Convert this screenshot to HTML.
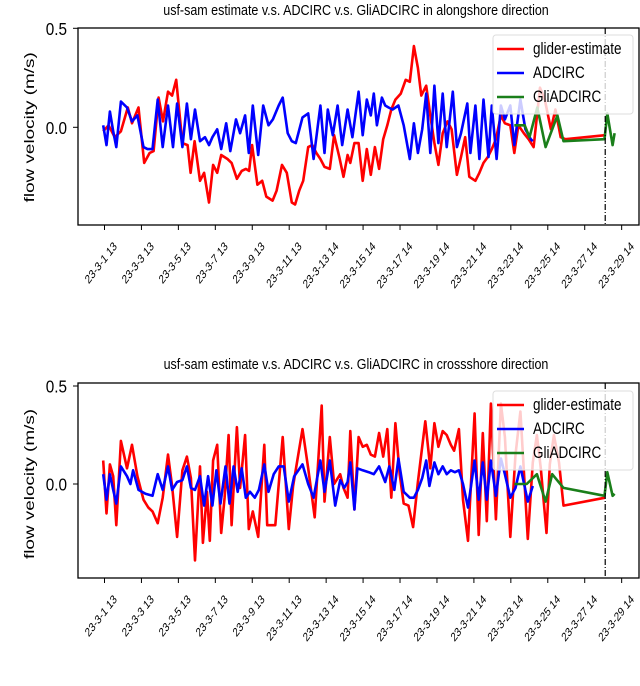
<!DOCTYPE html>
<html><head><meta charset="utf-8"><style>
body{margin:0;background:#fff;}
svg text{font-family:"Liberation Sans",sans-serif;}
</style></head><body>
<svg id="chart" width="640" height="681" xmlns="http://www.w3.org/2000/svg"></svg>
<script>
const tickDays=[1,3,5,7,9,11,13,15,17,19,21,23,25,27,29];
const tickLabels=["23-3-1 13","23-3-3 13","23-3-5 13","23-3-7 13","23-3-9 13","23-3-11 13","23-3-13 14","23-3-15 14","23-3-17 14","23-3-19 14","23-3-21 14","23-3-23 14","23-3-25 14","23-3-27 14","23-3-29 14"];
const yTicks=[0.5,0.0];
const markerDay=28.11;

const aGliderT=[0.93,1.22,1.55,1.89,2.26,2.49,2.84,3.15,3.44,3.66,3.93,4.17,4.44,4.66,4.88,5.22,5.50,5.66,5.88,6.17,6.39,6.66,6.88,7.10,7.32,7.66,7.88,8.17,8.43,8.65,8.83,8.99,9.28,9.54,9.76,10.10,10.32,10.61,10.87,11.14,11.32,11.54,11.76,12.03,12.25,12.47,12.69,12.91,13.20,13.43,13.71,13.94,14.16,14.31,14.53,14.76,14.98,15.20,15.42,15.64,15.87,16.09,16.31,16.53,16.75,17.04,17.31,17.53,17.75,17.97,18.15,18.42,18.64,18.86,19.08,19.31,19.57,19.79,20.08,20.30,20.53,20.75,21.08,21.30,21.52,21.75,21.97,22.19,22.46,22.68,22.97,23.19,23.41,23.70,23.96,24.23,24.58,24.84,25.17,25.41,25.70,25.96,28.11];
const aGliderV=[-0.02,0.01,-0.05,-0.02,0.10,0.02,0.10,-0.18,-0.13,-0.12,0.15,0.03,0.18,0.16,0.24,-0.08,-0.09,-0.23,-0.07,-0.27,-0.23,-0.38,-0.19,-0.23,-0.14,-0.16,-0.18,-0.26,-0.22,-0.21,-0.22,-0.09,-0.29,-0.27,-0.35,-0.37,-0.32,-0.19,-0.23,-0.38,-0.39,-0.32,-0.27,-0.10,-0.09,-0.13,-0.16,-0.20,-0.21,-0.04,-0.15,-0.25,-0.14,-0.18,-0.08,-0.08,-0.27,-0.11,-0.24,-0.10,-0.21,-0.06,0.01,0.09,0.14,0.17,0.24,0.23,0.41,0.30,0.16,0.21,0.06,-0.08,-0.19,-0.03,0.03,-0.01,-0.24,-0.15,-0.05,-0.25,-0.27,-0.23,-0.18,-0.15,-0.11,-0.06,0.06,0.02,0.01,-0.13,0.01,-0.03,-0.06,-0.10,0.20,0.14,-0.01,0.09,-0.05,-0.06,-0.04];
const aAdcT=[0.93,1.11,1.29,1.47,1.64,1.89,2.22,2.49,2.78,3.11,3.33,3.60,3.88,4.15,4.44,4.71,4.93,5.22,5.46,5.68,5.90,6.17,6.44,6.66,6.84,7.10,7.32,7.59,7.81,8.12,8.34,8.61,8.81,9.03,9.32,9.59,9.88,10.12,10.43,10.65,10.92,11.14,11.36,11.72,12.03,12.32,12.69,12.91,13.09,13.36,13.62,13.87,14.16,14.42,14.76,14.98,15.20,15.42,15.58,15.75,16.02,16.20,16.38,16.60,16.91,17.20,17.53,17.75,17.97,18.20,18.42,18.64,18.86,19.08,19.31,19.53,19.86,20.08,20.30,20.64,20.81,21.08,21.30,21.52,21.79,21.97,22.23,22.46,22.68,22.97,23.19,23.52,23.79,24.08,24.19];
const aAdcV=[0.01,-0.09,0.08,-0.02,-0.10,0.13,0.10,0.03,0.06,-0.10,-0.11,-0.11,0.14,-0.10,0.11,-0.10,0.12,-0.10,0.12,-0.06,0.09,-0.07,-0.05,-0.09,-0.05,-0.01,-0.11,0.02,-0.12,0.04,-0.03,0.06,-0.13,0.11,-0.14,0.11,0.01,0.04,0.11,0.15,-0.03,-0.07,-0.08,0.05,0.07,-0.16,0.11,-0.13,0.09,-0.04,0.11,-0.09,0.09,-0.05,0.18,-0.04,0.14,0.06,0.17,0.01,0.15,0.11,0.10,0.09,0.11,0.01,-0.16,0.02,-0.13,-0.01,0.17,-0.13,0.21,-0.08,0.17,-0.10,0.18,-0.10,-0.03,0.12,-0.13,0.11,-0.16,0.14,-0.15,0.11,-0.16,0.11,0.04,0.11,-0.09,0.14,-0.01,-0.06,-0.07];
const aGliT=[23.19,23.75,24.01,24.43,24.88,25.52,25.85,28.07,28.22,28.51,28.62];
const aGliV=[0.01,0.01,-0.05,0.10,-0.10,0.06,-0.07,-0.06,0.07,-0.09,-0.03];

const cGliderT=[0.93,1.11,1.29,1.47,1.64,1.89,2.22,2.49,2.78,3.11,3.37,3.60,3.88,4.15,4.44,4.66,4.93,5.22,5.46,5.68,5.90,6.17,6.33,6.55,6.70,6.88,7.10,7.32,7.50,7.72,7.88,8.17,8.34,8.61,8.81,9.03,9.32,9.65,9.81,10.25,10.65,10.98,11.21,11.72,12.03,12.38,12.76,12.91,13.20,13.43,13.76,13.94,14.16,14.31,14.53,14.76,14.98,15.20,15.42,15.64,15.87,16.09,16.31,16.53,16.75,16.98,17.20,17.46,17.71,17.97,18.37,18.64,18.86,19.08,19.31,19.53,19.75,19.93,20.19,20.41,20.68,21.04,21.26,21.48,21.70,21.92,22.19,22.46,22.68,22.97,23.25,23.52,23.92,24.19,24.41,24.62,24.93,25.11,25.33,25.61,25.85,28.11];
const cGliderV=[0.12,-0.15,0.10,0.04,-0.21,0.22,0.08,0.20,0.04,-0.08,-0.12,-0.14,-0.20,-0.07,0.15,-0.01,-0.27,0.07,0.14,0.03,-0.39,0.09,-0.30,-0.04,-0.29,0.12,0.20,-0.25,-0.07,0.25,-0.21,0.29,-0.02,0.25,-0.23,-0.14,-0.27,0.20,-0.21,-0.21,0.24,-0.23,-0.01,0.28,0.08,-0.17,0.40,-0.09,0.24,0.00,0.05,-0.02,-0.07,0.27,-0.13,0.24,0.19,0.20,0.15,0.14,0.26,0.14,0.28,-0.07,0.31,0.05,-0.10,-0.11,-0.22,0.01,0.32,0.08,0.31,0.19,0.27,0.25,0.20,0.17,0.28,-0.08,-0.29,0.36,-0.26,0.26,-0.19,0.41,-0.18,0.41,0.24,-0.27,0.15,0.37,-0.28,0.11,0.25,0.08,-0.25,0.10,0.25,0.11,-0.11,-0.07];
const cAdcT=[0.93,1.11,1.29,1.47,1.64,1.89,2.22,2.40,2.55,2.84,3.22,3.60,3.88,4.15,4.44,4.66,4.93,5.22,5.46,5.68,5.90,6.17,6.39,6.61,6.84,7.06,7.28,7.55,7.77,7.99,8.21,8.43,8.65,8.88,9.14,9.36,9.65,9.88,10.16,10.43,10.70,10.98,11.27,11.72,12.03,12.32,12.69,12.91,13.20,13.49,13.76,13.98,14.16,14.31,14.53,14.69,14.98,15.31,15.58,15.87,16.20,16.42,16.69,16.91,17.20,17.53,17.75,17.97,18.20,18.42,18.59,18.86,19.08,19.31,19.53,19.75,19.97,20.19,20.41,20.68,21.04,21.26,21.48,21.70,21.92,22.19,22.46,22.68,22.97,23.25,23.52,23.92,24.19];
const cAdcV=[0.05,-0.08,0.05,-0.03,-0.10,0.09,0.04,0.00,0.07,-0.03,-0.05,-0.06,0.05,-0.03,0.09,-0.03,0.01,0.02,0.09,-0.02,-0.03,0.04,-0.11,0.04,-0.11,0.07,-0.10,0.09,-0.10,0.09,-0.04,0.08,-0.07,-0.04,-0.07,-0.03,0.10,-0.04,0.05,0.09,0.09,-0.09,0.04,0.10,0.00,-0.07,0.12,-0.04,0.12,-0.11,0.02,-0.02,0.01,0.11,-0.13,0.08,0.07,0.06,0.05,0.09,0.01,0.09,-0.03,0.13,-0.04,-0.07,-0.07,-0.03,0.03,0.12,-0.01,0.11,0.05,0.09,0.05,0.07,0.06,0.07,0.00,-0.12,0.12,-0.08,0.11,-0.08,0.12,-0.06,0.13,0.05,-0.07,-0.02,0.09,-0.09,-0.01];
const cGliT=[23.19,23.86,24.41,24.88,25.24,25.85,28.07,28.22,28.51,28.62];
const cGliV=[0.00,0.00,0.05,-0.09,0.05,-0.02,-0.06,0.06,-0.06,-0.05];

const NS="http://www.w3.org/2000/svg";
const svg=document.getElementById('chart');
function mk(tag,attrs,parent){const e=document.createElementNS(NS,tag);for(const k in attrs)e.setAttribute(k,attrs[k]);(parent||svg).appendChild(e);return e;}
function xS(d){return 104.5+(d-1)*18.47;}

function panel(key,title,titleY,top,bottom,zeroY,unit,series,legTop){
  const g=mk('g',{});
  
  
  const yS=v=>zeroY-v*unit;
  const t=mk('text',{x:0,y:0,'text-anchor':'middle','font-size':'12.5',transform:'translate(356 '+titleY+') scale(1,1.2)'},g);t.textContent=title;
  
  
  const cx=mk('clipPath',{id:'clip-'+key},g);mk('rect',{x:78,y:top,width:561,height:bottom-top},cx);
  series.forEach(s=>{
    const pts=s.t.map((d,i)=>xS(d).toFixed(1)+','+yS(s.v[i]).toFixed(1)).join(' ');
    const p=mk('polyline',{points:pts,fill:'none',stroke:s.c,'stroke-width':2.6,'stroke-linejoin':'round','clip-path':'url(#clip-'+key+')'},g);
    
    
  });
  const vl=mk('line',{x1:xS(markerDay),x2:xS(markerDay),y1:top,y2:bottom,stroke:'#000','stroke-width':1.2,'stroke-dasharray':'6,2,1,2'},g);
  
  
  const fr=mk('rect',{x:78,y:top,width:561,height:bottom-top,fill:'none',stroke:'#000','stroke-width':1.3},g);
  
  
  yTicks.forEach(v=>{
    mk('line',{x1:73,x2:78,y1:yS(v),y2:yS(v),stroke:'#000'},g);
    const tl=mk('text',{x:0,y:0,'text-anchor':'end','font-size':'18',transform:'translate(67 '+(yS(v)+6.5)+') scale(0.85,1)'},g);tl.textContent=v.toFixed(1);
    
    
  });
  tickDays.forEach((d,i)=>{
    const x=xS(d);
    mk('line',{x1:x,x2:x,y1:bottom,y2:bottom+5,stroke:'#000'},g);
    const tl=mk('text',{x:0,y:0,'text-anchor':'end','font-size':'9.5',transform:'translate('+(x+13)+' '+(bottom+22)+') scale(1,1.3) rotate(-45)'},g);
    tl.textContent=tickLabels[i];
    
    
  });
  const yl=mk('text',{x:0,y:0,'text-anchor':'middle','font-size':'14',transform:'translate(34 '+zeroY+') scale(1,1.35) rotate(-90)'},g);
  yl.textContent='flow velocity (m/s)';
  
  
  const lg=mk('g',{},g);
  
  
  mk('rect',{x:493,y:legTop,width:140,height:79,rx:3,fill:'rgba(255,255,255,0.8)',stroke:'#ddd'},lg);
  series.forEach((s,i)=>{
    const y=legTop+14+i*24;
    mk('line',{x1:497,x2:524,y1:y,y2:y,stroke:s.c,'stroke-width':2.6},lg);
    const tx=mk('text',{x:0,y:0,'font-size':'13.5',transform:'translate(533 '+(y+5)+') scale(1,1.2)'},lg);tx.textContent=s.label;
    
    
  });
}
panel('alongshore','usf-sam estimate v.s. ADCIRC v.s. GliADCIRC in alongshore direction',15,28,225,127.3,198,
 [{n:'glider',label:'glider-estimate',c:'#ff0000',t:aGliderT,v:aGliderV},
  {n:'adcirc',label:'ADCIRC',c:'#0000ff',t:aAdcT,v:aAdcV},
  {n:'gliadcirc',label:'GliADCIRC',c:'#1a7f1a',t:aGliT,v:aGliV}],35);
panel('crossshore','usf-sam estimate v.s. ADCIRC v.s. GliADCIRC in crossshore direction',369,383,578,484,196,
 [{n:'glider',label:'glider-estimate',c:'#ff0000',t:cGliderT,v:cGliderV},
  {n:'adcirc',label:'ADCIRC',c:'#0000ff',t:cAdcT,v:cAdcV},
  {n:'gliadcirc',label:'GliADCIRC',c:'#1a7f1a',t:cGliT,v:cGliV}],391);
</script>
</body></html>
